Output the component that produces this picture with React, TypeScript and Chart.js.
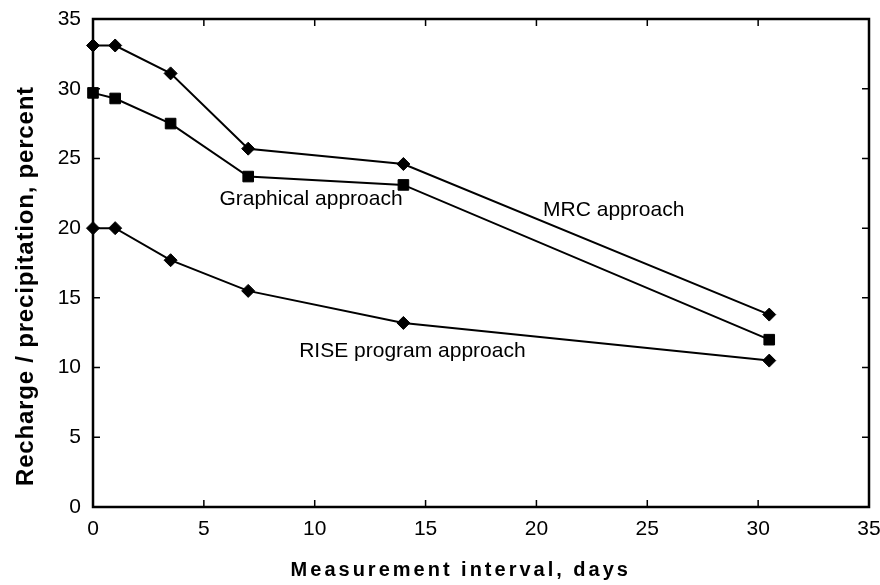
import { useEffect, useRef } from "react";
import { Chart, registerables } from "chart.js";

Chart.register(...registerables);

// ---- data ----
const intervals = [0, 1, 3.5, 7, 14, 30.5];
const mrcValues = [33.1, 33.1, 31.1, 25.7, 24.6, 13.8];
const graphicalValues = [29.7, 29.3, 27.5, 23.7, 23.1, 12.0];
const riseValues = [20.0, 20.0, 17.7, 15.5, 13.2, 10.5];
const seriesNames = ["MRC approach", "Graphical approach", "RISE program approach"];
const xTickValues = [0, 5, 10, 15, 20, 25, 30, 35];
const yTickValues = [0, 5, 10, 15, 20, 25, 30, 35];
// annotation anchors (data units): left edge x, vertical middle y
const labelXs = [20.3, 5.7, 9.3];
const labelYs = [21.3, 22.1, 11.2];
const xTitle = "Measurement interval, days";
const yTitle = "Recharge / precipitation, percent";

const FONT = 'Arial, "Liberation Sans", sans-serif';

const framePlugin = {
  id: "frameTicks",
  beforeDatasetsDraw(chart: any) {
    const { ctx, chartArea: a, scales } = chart;
    const xs = scales.x;
    const ys = scales.y;
    const tl = 7;
    ctx.save();
    ctx.strokeStyle = "#000";
    ctx.lineWidth = 1.5;
    ctx.beginPath();
    for (const v of xTickValues) {
      const px = xs.getPixelForValue(v);
      ctx.moveTo(px, a.bottom);
      ctx.lineTo(px, a.bottom - tl);
      ctx.moveTo(px, a.top);
      ctx.lineTo(px, a.top + tl);
    }
    for (const v of yTickValues) {
      const py = ys.getPixelForValue(v);
      ctx.moveTo(a.left, py);
      ctx.lineTo(a.left + tl, py);
      ctx.moveTo(a.right, py);
      ctx.lineTo(a.right - tl, py);
    }
    ctx.stroke();
    ctx.lineWidth = 2.5;
    ctx.strokeRect(a.left, a.top, a.right - a.left, a.bottom - a.top);
    ctx.restore();
  },
  afterDraw(chart: any) {
    const { ctx, chartArea: a, scales } = chart;
    const xs = scales.x;
    const ys = scales.y;
    ctx.save();
    ctx.fillStyle = "#000";
    // annotations
    ctx.font = `21px ${FONT}`;
    ctx.textAlign = "left";
    ctx.textBaseline = "middle";
    seriesNames.forEach((name, i) => {
      ctx.fillText(name, xs.getPixelForValue(labelXs[i]), ys.getPixelForValue(labelYs[i]));
    });
    // x title
    ctx.font = `bold 20px ${FONT}`;
    (ctx as any).letterSpacing = "3px";
    ctx.textAlign = "center";
    ctx.textBaseline = "alphabetic";
    ctx.fillText(xTitle, a.left + (a.right - a.left) * 0.472 + 1.5, 576);
    // y title
    ctx.font = `bold 24px ${FONT}`;
    (ctx as any).letterSpacing = "0.8px";
    ctx.translate(33, (a.top + a.bottom) / 2 + 23);
    ctx.rotate(-Math.PI / 2);
    ctx.textAlign = "center";
    ctx.fillText(yTitle, 0, 0);
    ctx.restore();
  },
};

export default function App() {
  const ref = useRef<HTMLCanvasElement | null>(null);

  useEffect(() => {
    document.body.style.margin = "0";
    const canvas = ref.current;
    if (!canvas) return;
    const mk = (vals: number[]) => intervals.map((x, i) => ({ x, y: vals[i] }));
    const common = {
      showLine: true,
      borderColor: "#000",
      backgroundColor: "#000",
      pointBorderColor: "#000",
      pointBackgroundColor: "#000",
      borderWidth: 2,
      pointBorderWidth: 1,
      clip: false as any,
    };
    const chart = new Chart(canvas, {
      type: "scatter",
      data: {
        datasets: [
          { ...common, label: seriesNames[0], data: mk(mrcValues), pointStyle: "rectRot", pointRadius: 6.5 },
          { ...common, label: seriesNames[1], data: mk(graphicalValues), pointStyle: "rect", pointRadius: 7.5 },
          { ...common, label: seriesNames[2], data: mk(riseValues), pointStyle: "rectRot", pointRadius: 6.5 },
        ],
      },
      plugins: [framePlugin],
      options: {
        animation: false,
        responsive: false,
        devicePixelRatio: 1,
        layout: { padding: { top: 19, right: 11, left: 0, bottom: 0 } },
        plugins: { legend: { display: false }, tooltip: { enabled: false }, title: { display: false } },
        scales: {
          x: {
            type: "linear",
            min: 0,
            max: 35,
            afterFit: (s: any) => { s.height = 78; s.paddingLeft = 0; s.paddingRight = 0; },
            afterBuildTicks: (s: any) => { s.ticks = xTickValues.map((v) => ({ value: v })); },
            ticks: { color: "#000", font: { family: FONT, size: 21 }, padding: 10, maxRotation: 0 },
            grid: { display: false, drawTicks: false },
            border: { display: false },
          },
          y: {
            type: "linear",
            min: 0,
            max: 35,
            afterFit: (s: any) => { s.width = 93; s.paddingTop = 0; s.paddingBottom = 0; },
            afterBuildTicks: (s: any) => { s.ticks = yTickValues.map((v) => ({ value: v })); },
            ticks: { color: "#000", font: { family: FONT, size: 21 }, padding: 12 },
            grid: { display: false, drawTicks: false },
            border: { display: false },
          },
        },
      },
    });
    return () => chart.destroy();
  }, []);

  return (
    <div style={{ width: 880, height: 585, background: "#fff" }}>
      <canvas ref={ref} width={880} height={585} />
    </div>
  );
}
